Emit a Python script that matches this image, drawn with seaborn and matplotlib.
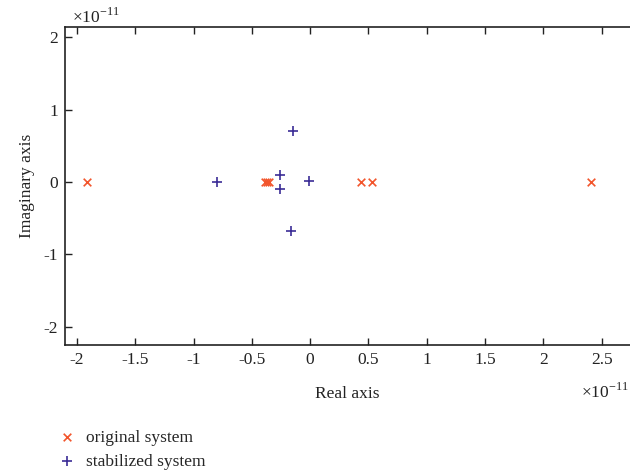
import matplotlib
matplotlib.use("Agg")
import matplotlib.pyplot as plt
import seaborn as sns
import pandas as pd
import numpy as np

# data (units of 1e-11)
orig_re = [-1.91, -0.39, -0.37, -0.355, 0.434, 0.529, 2.41]
orig_im = [0.0, 0.0, 0.0, 0.0, 0.0, 0.0, 0.0]
stab_re = [-0.80, -0.26, -0.26, -0.15, -0.163, -0.008]
stab_im = [0.0, 0.097, -0.097, 0.71, -0.68, 0.012]
x_ticks = [-2, -1.5, -1, -0.5, 0, 0.5, 1, 1.5, 2, 2.5]
x_ticklabels = ["-2", "-1.5", "-1", "-0.5", "0", "0.5", "1", "1.5", "2", "2.5"]
y_ticks = [-2, -1, 0, 1, 2]
y_ticklabels = ["-2", "-1", "0", "1", "2"]
scale = 1e-11

sns.set_theme(style="ticks")
plt.rcParams['font.family'] = ['Liberation Serif', 'DejaVu Serif']
plt.rcParams['axes.unicode_minus'] = False
plt.rcParams['mathtext.fontset'] = 'custom'
plt.rcParams['mathtext.rm'] = 'Liberation Serif'

df_o = pd.DataFrame({"re": np.array(orig_re) * scale, "im": np.array(orig_im) * scale})
df_s = pd.DataFrame({"re": np.array(stab_re) * scale, "im": np.array(stab_im) * scale})

fig = plt.figure(figsize=(6.3, 4.75), dpi=100)
ax = fig.add_axes([0.103, 0.274, 0.897, 0.669])

c_orig = "#F2552C"
c_stab = "#3B2C96"
sns.scatterplot(data=df_o, x="re", y="im", marker="x", color=c_orig, s=30,
                linewidth=1.2, ax=ax, label="original system")
sns.scatterplot(data=df_s, x="re", y="im", marker="+", color=c_stab, s=60,
                linewidth=1.2, ax=ax, label="stabilized system")

ax.set_xlim(-2.103e-11, 2.742e-11)
ax.set_ylim(-2.25e-11, 2.14e-11)
ax.set_xticks(np.array(x_ticks) * scale)
ax.set_xticklabels(x_ticklabels)
ax.set_yticks(np.array(y_ticks) * scale)
ax.set_yticklabels(y_ticklabels)

fs = 12.5
tc = "#222222"
ax.tick_params(direction="in", length=5, width=1, labelsize=fs, colors=tc,
               top=True, right=False, pad=5)
for sp in ["left", "bottom", "top"]:
    ax.spines[sp].set_linewidth(1.2)
    ax.spines[sp].set_color(tc)
ax.spines["right"].set_visible(False)

ax.set_xlabel("Real axis", fontsize=fs, color=tc, labelpad=13)
ax.set_ylabel("Imaginary axis", fontsize=fs, color=tc, labelpad=6)

fig.text(0.114, 0.953, r"×10$^{\mathregular{-11}}$", fontsize=fs, color=tc,
         ha="left", va="baseline")
fig.text(0.998, 0.163, r"×10$^{\mathregular{-11}}$", fontsize=fs, color=tc,
         ha="right", va="baseline")

handles, labels = ax.get_legend_handles_labels()
ax.get_legend().remove()
fig.legend(handles, labels, loc="upper left", bbox_to_anchor=(0.08, 0.11),
           frameon=False, fontsize=fs, handletextpad=0.55, labelspacing=0.45,
           handlelength=1.1, borderaxespad=0)

fig.savefig("out.png", dpi=100)
